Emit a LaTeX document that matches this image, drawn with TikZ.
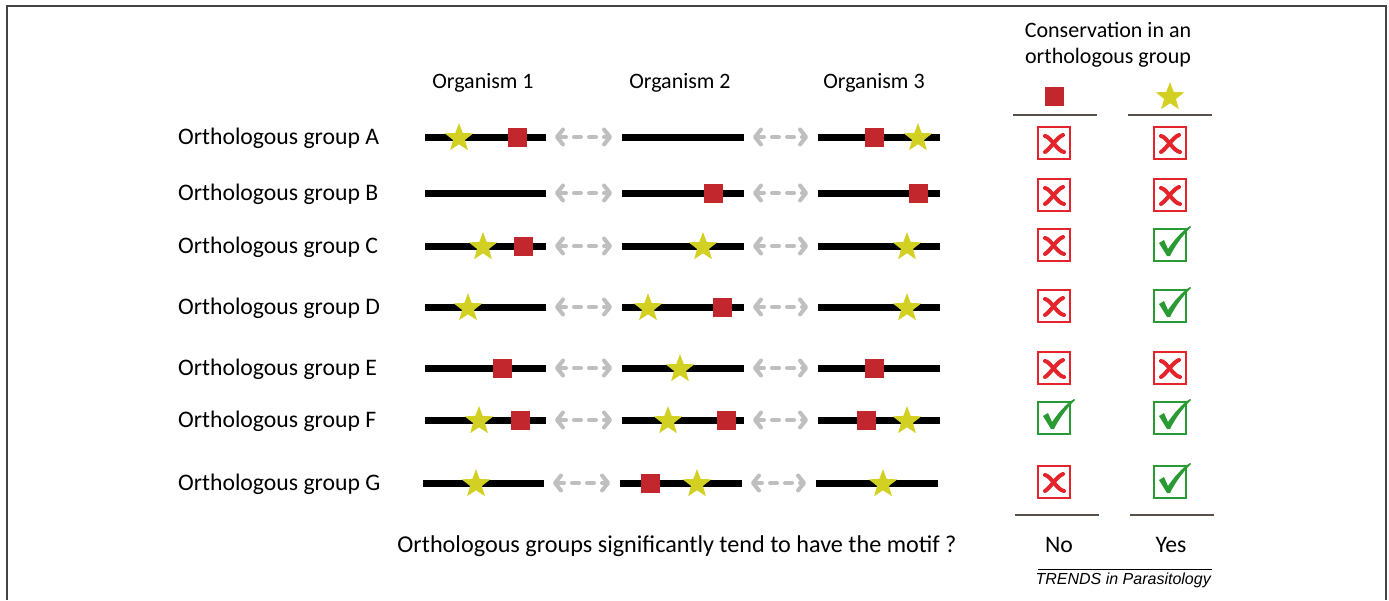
\documentclass[tikz,border=0pt]{standalone}
\usepackage{fontspec}
\setmainfont{Carlito}
\newfontfamily\trendsfont{Liberation Sans}
\usetikzlibrary{arrows.meta,shapes.geometric}
\definecolor{motifred}{HTML}{C1272D}
\definecolor{motifyellow}{HTML}{D3D024}
\definecolor{linkgray}{HTML}{BFBFBF}
\definecolor{boxred}{HTML}{E4232A}
\definecolor{boxgreen}{HTML}{2A9A33}
\definecolor{rulebrown}{HTML}{5A504B}
\definecolor{framegray}{HTML}{444444}

\tikzset{
  x=1pt, y=-1pt,
  seq/.style={line width=7pt, black},
  link/.style={linkgray, line width=4pt, line cap=round, dash pattern=on 7pt off 8pt,
    {Straight Barb[round,length=6pt,width=15pt]}-{Straight Barb[round,length=6pt,width=15pt]},
    shorten <=9pt, shorten >=10pt},
  sqmotif/.style={fill=motifred, minimum size=19pt, inner sep=0pt, draw=none},
  starmotif/.style={star, star points=5, star point ratio=2.4, fill=motifyellow,
    minimum size=30pt, inner sep=0pt, draw=none},
  rowlabel/.style={anchor=base west, inner sep=0pt, font=\fontsize{23.7}{28}\selectfont},
  headlabel/.style={anchor=base, inner sep=0pt, font=\fontsize{22}{26}\selectfont},
  colrule/.style={rulebrown, line width=2.5pt},
  nobox/.pic={
    \draw[boxred, line width=2.8pt] (-16,-16) rectangle (16,16);
    \draw[boxred, line width=4pt, line cap=round]
      (-9,-7) .. controls (-3,-6) and (3,8) .. (10,9);
    \draw[boxred, line width=4pt, line cap=round]
      (9,-8) .. controls (3,-6) and (-3,5) .. (-9,9);
  },
  yesbox/.pic={
    \draw[boxgreen, line width=2.8pt] (-16,-16) rectangle (16,16);
    \fill[boxgreen] (-11,-2) -- (-6,-5) -- (-2,4) .. controls (5,-6) and (12,-14) .. (20,-19)
      -- (21,-18) .. controls (12,-9) and (5,1) .. (0,11) -- (-3,11) -- cycle;
  }
}

\begin{document}
\begin{tikzpicture}
\useasboundingbox (0,0) rectangle (1389,600);
% outer frame
\draw[framegray, line width=2pt] (7,600) -- (7,6) -- (1386,6) -- (1386,600);

% column heads
\node[headlabel] (org1) at (483,88) {Organism 1};
\node[headlabel] (org2) at (680,88) {Organism 2};
\node[headlabel] (org3) at (874,88) {Organism 3};

% sequences of each orthologous group
\foreach \r/\y/\d in {A/137/0,B/193/0,C/246/0,D/307/0,E/368/0,F/420/0,G/483/-2} {
  \node[rowlabel] (lab\r) at (178,\y+7) {Orthologous group \r};
  \coordinate (\r1w) at (425+\d,\y); \coordinate (\r1e) at (546+\d,\y);
  \coordinate (\r2w) at (622+\d,\y); \coordinate (\r2e) at (744+\d,\y);
  \coordinate (\r3w) at (818+\d,\y); \coordinate (\r3e) at (940+\d,\y);
  \draw[seq] (\r1w) -- (\r1e);
  \draw[seq] (\r2w) -- (\r2e);
  \draw[seq] (\r3w) -- (\r3e);
  \draw[link] (\r1e) -- (\r2w);
  \draw[link] (\r2e) -- (\r3w);
}

% motif occurrences
\node[starmotif] (sA1) at (459,138) {};
\node[sqmotif]   (qA1) at (517,137) {};
\node[sqmotif]   (qA3) at (874,137) {};
\node[starmotif] (sA3) at (918,138) {};

\node[sqmotif]   (qB2) at (713,193) {};
\node[sqmotif]   (qB3) at (918,193) {};

\node[starmotif] (sC1) at (483,247) {};
\node[sqmotif]   (qC1) at (523,246) {};
\node[starmotif] (sC2) at (703,247) {};
\node[starmotif] (sC3) at (907,247) {};

\node[starmotif] (sD1) at (468,308) {};
\node[starmotif] (sD2) at (648,308) {};
\node[sqmotif]   (qD2) at (722,307) {};
\node[starmotif] (sD3) at (907,308) {};

\node[sqmotif]   (qE1) at (502,368) {};
\node[starmotif] (sE2) at (680,369) {};
\node[sqmotif]   (qE3) at (874,368) {};

\node[starmotif] (sF1) at (479,421) {};
\node[sqmotif]   (qF1) at (520,420) {};
\node[starmotif] (sF2) at (668,421) {};
\node[sqmotif]   (qF2) at (726,420) {};
\node[sqmotif]   (qF3) at (866,420) {};
\node[starmotif] (sF3) at (907,421) {};

\node[starmotif] (sG1) at (476,484) {};
\node[sqmotif]   (qG2) at (650,483) {};
\node[starmotif] (sG2) at (697,484) {};
\node[starmotif] (sG3) at (883,484) {};

% conservation table
\node[headlabel] (cons1) at (1108,37) {Conservation in an};
\node[headlabel] (cons2) at (1108,63) {orthologous group};
\node[sqmotif]   (legsq)   at (1054,96) {};
\node[starmotif] (legstar) at (1170,97) {};
\draw[colrule] (1013,115) -- (1097,115);
\draw[colrule] (1128,115) -- (1212,115);

\pic (nA) at (1054,143) {nobox};   \pic (yA) at (1170,143) {nobox};
\pic (nB) at (1054,195) {nobox};   \pic (yB) at (1170,195) {nobox};
\pic (nC) at (1054,245) {nobox};   \pic (yC) at (1170,245) {yesbox};
\pic (nD) at (1054,306) {nobox};   \pic (yD) at (1170,306) {yesbox};
\pic (nE) at (1054,368) {nobox};   \pic (yE) at (1170,368) {nobox};
\pic (nF) at (1054,418) {yesbox};  \pic (yF) at (1170,418) {yesbox};
\pic (nG) at (1054,482) {nobox};   \pic (yG) at (1170,482) {yesbox};

\draw[colrule] (1015,515) -- (1099,515);
\draw[colrule] (1130,515) -- (1214,515);

\node[rowlabel, anchor=base, font=\fontsize{24.2}{28}\selectfont] (question) at (677,552)
  {Orthologous groups significantly tend to have the motif ?};
\node[rowlabel, anchor=base] (ansno)  at (1059,552) {No};
\node[rowlabel, anchor=base] (ansyes) at (1171,552) {Yes};

% journal credit
\draw[black, line width=0.8pt] (1038,569) -- (1212,569);
\node[anchor=base east, inner sep=0pt, font=\trendsfont\itshape\fontsize{16}{18}\selectfont]
  (credit) at (1211,584) {TRENDS in Parasitology};
\end{tikzpicture}
\end{document}
